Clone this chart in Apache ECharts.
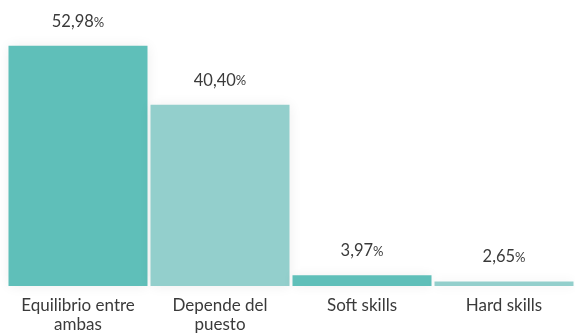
<!DOCTYPE html>
<html>
<head>
<meta charset="utf-8">
<script src="https://cdn.jsdelivr.net/npm/echarts@6/dist/echarts.min.js"></script>
<style>
  html, body { margin: 0; padding: 0; background: #fff; }
  #chart { width: 575px; height: 333px; }
</style>
</head>
<body>
<div id="chart"></div>
<script>
  // datos del gráfico
  const categories = ['Equilibrio entre\nambas', 'Depende del\npuesto', 'Soft skills', 'Hard skills'];
  const values = [52.98, 40.40, 3.97, 2.65];
  const colors = ['#5fbfb9', '#93cfcc', '#5fbfb9', '#93cfcc'];

  let chart = echarts.init(document.getElementById('chart'));

  let barData = [];
  for (let i = 0; i < values.length; i++) {
    barData.push({
      value: values[i],
      itemStyle: { color: colors[i] }
    });
  }

  chart.setOption({
    animation: false,
    textStyle: { fontFamily: 'Lato' },
    grid: {
      left: 7,
      right: 0,
      top: 13,
      bottom: 47,
      outerBoundsMode: 'none'
    },
    xAxis: {
      type: 'category',
      data: categories,
      axisLine: { show: false },
      axisTick: { show: false },
      axisLabel: {
        color: '#3a3a3a',
        fontSize: 17,
        lineHeight: 19,
        margin: 10,
        interval: 0
      }
    },
    yAxis: {
      type: 'value',
      show: false,
      min: 1.7,
      max: 60
    },
    series: [{
      type: 'bar',
      data: barData,
      barWidth: 139,
      clip: true,
      itemStyle: {
        shadowColor: 'rgba(0,0,0,0.07)',
        shadowBlur: 12
      },
      label: {
        show: true,
        position: 'top',
        distance: 16,
        formatter: function (p) {
          return '{n|' + p.value.toFixed(2).replace('.', ',') + '}{p|%}';
        },
        rich: {
          n: { fontSize: 16.5, color: '#3a3a3a', fontFamily: 'Lato' },
          p: { fontSize: 13, color: '#3a3a3a', fontFamily: 'Lato', padding: [2, 0, 0, 0] }
        }
      }
    }]
  });

  window.addEventListener('resize', function () {
    chart.resize();
  });
</script>
</body>
</html>
